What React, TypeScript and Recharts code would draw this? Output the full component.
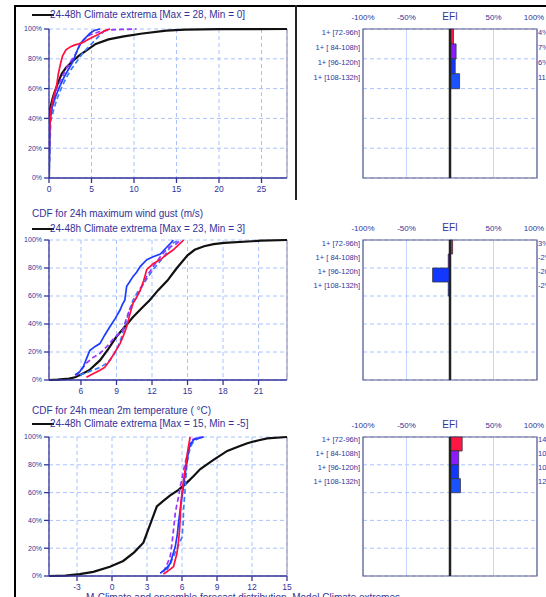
import React from 'react';
import {
  LineChart,
  Line,
  XAxis,
  YAxis,
  CartesianGrid,
  ReferenceLine,
  ReferenceArea,
  BarChart,
  Bar,
  Cell,
} from 'recharts';

// ---- CDF data: [value, cumulative %] ----
const precipTicks = [0, 5, 10, 15, 20, 25];
const precipClimate = [[0, 0], [0.05, 45], [0.5, 55], [1, 63], [1.5, 70], [2, 74], [2.7, 78], [3.5, 82], [4.5, 86], [5.5, 90], [7, 93], [8.8, 95], [11, 97], [13.8, 98.9], [16, 99.6], [20, 99.9], [28, 100]];
const precipRed = [[0, 0], [0.05, 30], [0.2, 45], [0.43, 52], [0.7, 58], [0.9, 62], [1.1, 70], [1.37, 77], [1.6, 82], [2, 86], [2.5, 88], [2.9, 89], [3.5, 90], [4, 91], [4.6, 93], [5.3, 95], [6, 97], [6.6, 99], [7.2, 100]];
const precipBlue = [[0, 0], [0.1, 38], [0.4, 48], [0.8, 55], [1.3, 62], [1.8, 68], [2.3, 73], [2.8, 78], [3.2, 84], [3.5, 88], [3.8, 91], [4.3, 94], [4.8, 97], [5.3, 99], [6, 100]];
const precipPurple = [[0, 0], [0.1, 40], [0.5, 52], [0.9, 60], [1.4, 66], [1.9, 72], [2.4, 77], [2.9, 81], [3.3, 85], [3.6, 89], [4.1, 93], [4.8, 96], [5.8, 98], [7, 99.3], [8.5, 99.7], [10.3, 100]];
const precipCyan = [[0, 0], [0.2, 38], [0.6, 47], [1, 54], [1.5, 61], [2, 67], [2.5, 72], [3, 76], [3.5, 80], [4, 84], [4.5, 87], [5, 90], [5.5, 93], [6, 96], [6.5, 98.5], [7, 100]];

const gustTicks = [6, 9, 12, 15, 18, 21];
const gustClimate = [[3.3, 0], [4, 0.3], [5, 1], [5.5, 2], [6, 4], [6.7, 7], [7.6, 14], [8.3, 22], [9, 31], [9.7, 38], [10.4, 45], [11.1, 51], [11.8, 57], [12.5, 64], [13.3, 71], [14.1, 80], [15, 89], [15.6, 93], [16.4, 95.5], [17.2, 97], [18.1, 98], [21.2, 99.5], [23.4, 100]];
const gustBlue = [[5.5, 3.6], [5.9, 6], [6.2, 9.5], [6.5, 16], [6.74, 21], [7.2, 24], [7.6, 26], [8, 32], [8.44, 38], [8.9, 44], [9.3, 50], [9.5, 54], [9.7, 57], [9.86, 67], [10.1, 70], [10.4, 74], [10.7, 77], [11, 81], [11.56, 86], [12.1, 88], [12.7, 90], [13.26, 95], [13.5, 97], [13.8, 100]];
const gustRed = [[6.46, 2], [6.9, 4], [7.6, 7], [8, 9], [8.44, 14], [8.8, 19], [9.3, 26], [9.6, 32], [9.86, 38], [10.1, 46], [10.4, 55], [10.7, 59], [11, 64], [11.3, 71], [11.56, 79], [12.1, 83], [12.7, 86], [13.3, 90], [13.8, 93], [14.3, 97], [14.67, 100]];
const gustPurple = [[5.6, 3], [6, 7], [6.46, 12], [7, 16], [7.6, 19], [8.2, 24], [8.7, 29], [9.2, 33], [9.55, 36], [9.8, 43], [10.1, 50], [10.4, 55], [10.7, 59], [11.1, 66], [11.56, 74], [12.1, 81], [12.7, 88], [13.1, 92], [13.5, 95], [14, 97], [14.4, 100]];
const gustCyan = [[5.9, 3.6], [6.4, 5], [7, 7], [7.6, 9], [8.2, 12], [8.6, 16], [9, 21], [9.4, 30], [9.86, 43], [10.1, 50], [10.4, 57], [10.8, 63], [11.3, 69], [11.7, 74], [12.1, 79], [12.6, 84], [13, 88], [13.4, 93], [13.8, 98], [14.4, 100]];

const tempTicks = [-3, 0, 3, 6, 9, 12, 15];
const tempClimate = [[-5.4, 0], [-4, 0.3], [-2.77, 1.4], [-1.6, 3], [-0.18, 6.7], [0.96, 10.8], [1.9, 17], [2.69, 24], [3, 31], [3.4, 40], [3.84, 50], [4.4, 54], [4.99, 58], [5.7, 62], [6.4, 67], [7, 72], [7.57, 77], [8.7, 83.5], [9.88, 90], [10.8, 93], [11.6, 95.5], [12.5, 97.5], [13.3, 99], [15, 100]];
const tempBlue = [[4.13, 2], [4.6, 5], [4.99, 9], [5.2, 15], [5.42, 21], [5.6, 30], [5.7, 38], [5.85, 48], [6, 57], [6.15, 66], [6.28, 74], [6.45, 83], [6.57, 91], [6.75, 95], [7, 98], [7.4, 99], [7.86, 100]];
const tempRed = [[4.41, 1.4], [4.7, 3], [5, 5], [5.27, 6.7], [5.4, 11], [5.56, 16], [5.7, 25], [5.79, 33], [5.85, 42], [5.9, 52], [6, 60], [6.13, 69], [6.3, 78], [6.42, 86], [6.55, 93], [6.7, 100]];
const tempPurple = [[4.41, 3], [4.7, 8], [4.99, 14], [5.15, 24], [5.27, 33], [5.42, 45], [5.55, 51], [5.7, 57], [5.9, 66], [6.13, 76], [6.35, 84], [6.57, 91], [6.75, 96], [6.85, 98], [7.3, 99.5], [7.8, 100]];
const tempCyan = [[4.7, 4], [5, 9], [5.27, 14], [5.6, 20], [6, 28], [6.1, 38], [6.13, 47], [6.2, 55], [6.28, 64], [6.35, 72], [6.42, 81], [6.6, 89], [6.85, 95], [7.2, 98], [7.57, 100]];

const cdfYTicks = [0, 20, 40, 60, 80, 100];

// ---- EFI data ----
const efiRows = ['1+ [72-96h]', '1+ [ 84-108h]', '1+ [96-120h]', '1+ [108-132h]'];
const precipEfi = [4, 7, 6, 11];
const gustEfi = [3, -2, -20, -2];
const tempEfi = [14, 10, 10, 12];
const efiColors = ['#ff1744', '#8a1cff', '#1238ff', '#1a52ff'];
const efiTicks = [-100, -50, 0, 50, 100];
const ROW_COUNT = 10;

const NAVY = '#33339a';
const FONT = '"Liberation Sans", Arial, Helvetica, sans-serif';

const toPts = (a: number[][]) => a.map(([x, y]) => ({ x, y }));

const lineStyles = [
  { key: 'clim', stroke: '#111111', width: 2.2, dash: undefined },
  { key: 'cyan', stroke: '#3a7cff', width: 1.7, dash: '5 3' },
  { key: 'purple', stroke: '#9a33ff', width: 1.7, dash: '5 3' },
  { key: 'blue', stroke: '#1a3cff', width: 1.7, dash: undefined },
  { key: 'red', stroke: '#ff1040', width: 1.7, dash: undefined },
];

type CdfProps = {
  top: number;
  height: number;
  marginTop: number;
  xHeight: number;
  domain: [number, number];
  ticks: number[];
  series: number[][][]; // clim, cyan, purple, blue, red
};

function CdfPanel({ top, height, marginTop, xHeight, domain, ticks, series }: CdfProps) {
  return (
    <div style={{ position: 'absolute', left: 0, top, width: 300, height }}>
      <LineChart width={300} height={height} margin={{ top: marginTop, right: 13, bottom: 0, left: 9 }}>
        <CartesianGrid stroke="#a9c2ff" strokeDasharray="4 3" />
        <XAxis
          type="number"
          dataKey="x"
          domain={domain}
          ticks={ticks}
          allowDataOverflow
          height={xHeight}
          stroke={NAVY}
          strokeWidth={1.3}
          tickSize={5}
          tickMargin={3}
          tick={{ fontSize: 8.5, fill: NAVY, fontFamily: FONT }}
        />
        <YAxis
          type="number"
          domain={[0, 100]}
          ticks={cdfYTicks}
          width={40}
          stroke={NAVY}
          strokeWidth={1.3}
          tickSize={5}
          tickMargin={2}
          tickFormatter={(v: number) => `${v}%`}
          tick={{ fontSize: 7, fill: NAVY, fontFamily: FONT }}
        />
        <ReferenceLine x={domain[1]} stroke="#9a9ab4" strokeWidth={1.2} />
        {lineStyles.map((s, i) => (
          <Line
            key={s.key}
            data={toPts(series[i])}
            dataKey="y"
            type="linear"
            stroke={s.stroke}
            strokeWidth={s.width}
            strokeDasharray={s.dash}
            dot={false}
            activeDot={false}
            isAnimationActive={false}
          />
        ))}
      </LineChart>
    </div>
  );
}

type EfiProps = {
  top: number;
  height: number;
  marginTop: number;
  marginBottom: number;
  values: number[];
};

function EfiPanel({ top, height, marginTop, marginBottom, values }: EfiProps) {
  const rows = Array.from({ length: ROW_COUNT }, (_, i) => ({
    id: `r${i}`,
    label: efiRows[i] ?? '',
    right: values[i] != null ? `${values[i]}%` : '',
    v: values[i] ?? null,
    g: i,
  }));

  const TopTick = (p: any) => {
    const v = p.payload.value;
    return (
      <text x={p.x} y={p.y} textAnchor="middle" fontSize={v === 0 ? 10 : 8} fill={NAVY} fontFamily={FONT}>
        {v === 0 ? 'EFI' : `${v}%`}
      </text>
    );
  };
  const LeftTick = (p: any) => (
    <text x={p.x} y={p.y} dy={-1.5} textAnchor="end" fontSize={7.5} fill={NAVY} fontFamily={FONT}>
      {rows[p.index]?.label}
    </text>
  );
  const RightTick = (p: any) => (
    <text x={p.x} y={p.y} dy={-1.5} textAnchor="start" fontSize={7.5} fill={NAVY} fontFamily={FONT}>
      {rows[p.index]?.right}
    </text>
  );

  return (
    <div style={{ position: 'absolute', left: 300, top, width: 246, height }}>
      <BarChart
        width={246}
        height={height}
        layout="vertical"
        data={rows}
        barCategoryGap={0}
        margin={{ top: marginTop, right: 0, bottom: marginBottom, left: 0 }}
      >
        <CartesianGrid yAxisId="g" vertical={false} stroke="#a9c2ff" strokeDasharray="4 3" />
        <CartesianGrid horizontal={false} stroke="#c4d6ff" />
        <XAxis
          type="number"
          orientation="top"
          domain={[-100, 100]}
          ticks={efiTicks}
          height={20}
          axisLine={false}
          tickLine={false}
          tickSize={0}
          tickMargin={9}
          tick={<TopTick />}
        />
        <YAxis
          type="category"
          dataKey="id"
          width={63}
          axisLine={false}
          tickLine={false}
          tickSize={0}
          tickMargin={3}
          interval={0}
          tick={<LeftTick />}
        />
        <YAxis
          yAxisId="r"
          orientation="right"
          type="category"
          dataKey="id"
          width={9}
          axisLine={false}
          tickLine={false}
          tickSize={0}
          tickMargin={1}
          interval={0}
          tick={<RightTick />}
        />
        <YAxis yAxisId="g" type="number" dataKey="g" domain={[0, ROW_COUNT]} ticks={Array.from({ length: ROW_COUNT + 1 }, (_, i) => i)} hide />
        <Bar dataKey="v" stroke="#333344" strokeWidth={0.8} isAnimationActive={false}>
          {rows.map((r, i) => (
            <Cell key={r.id} fill={efiColors[i % efiColors.length]} />
          ))}
        </Bar>
        <ReferenceArea yAxisId="g" x1={-100} x2={100} y1={0} y2={ROW_COUNT} fill="none" stroke="#5c5c8c" strokeWidth={1.2} ifOverflow="visible" />
        <ReferenceLine x={0} stroke="#222222" strokeWidth={2.5} />
      </BarChart>
    </div>
  );
}

function Legend({ y, text }: { y: number; text: string }) {
  return (
    <>
      <div style={{ position: 'absolute', left: 32, top: y - 1, width: 22, height: 2, background: '#111' }} />
      <div style={{ position: 'absolute', left: 50, top: y - 6, fontSize: 10, lineHeight: '12px', color: NAVY, whiteSpace: 'nowrap' }}>
        {text}
      </div>
    </>
  );
}

function Title({ y, text }: { y: number; text: string }) {
  return (
    <div style={{ position: 'absolute', left: 32, top: y - 6, fontSize: 10, lineHeight: '12px', color: NAVY, whiteSpace: 'nowrap' }}>
      {text}
    </div>
  );
}

export default function App() {
  return (
    <div
      style={{
        position: 'absolute',
        left: 0,
        top: 0,
        width: 546,
        height: 597,
        overflow: 'hidden',
        background: '#fff',
        fontFamily: FONT,
      }}
    >
      {/* frame */}
      <div style={{ position: 'absolute', left: 14, top: 5, width: 2, height: 592, background: '#000' }} />
      <div style={{ position: 'absolute', left: 14, top: 5, width: 532, height: 2, background: '#000' }} />
      <div style={{ position: 'absolute', left: 295, top: 5, width: 1.5, height: 195, background: '#222' }} />

      <Legend y={15} text="24-48h Climate extrema [Max = 28, Min = 0]" />
      <Title y={214} text="CDF for 24h maximum wind gust (m/s)" />
      <Legend y={229} text="24-48h Climate extrema [Max = 23, Min = 3]" />
      <Title y={411} text="CDF for 24h mean 2m temperature ( °C)" />
      <Legend y={424} text="24-48h Climate extrema [Max = 15, Min = -5]" />

      <CdfPanel
        top={0}
        height={200}
        marginTop={29}
        xHeight={22}
        domain={[0, 28]}
        ticks={precipTicks}
        series={[precipClimate, precipCyan, precipPurple, precipBlue, precipRed]}
      />
      <CdfPanel
        top={200}
        height={200}
        marginTop={40}
        xHeight={20}
        domain={[3.3, 23.4]}
        ticks={gustTicks}
        series={[gustClimate, gustCyan, gustPurple, gustBlue, gustRed]}
      />
      <CdfPanel
        top={400}
        height={197}
        marginTop={37}
        xHeight={21}
        domain={[-5.4, 15]}
        ticks={tempTicks}
        series={[tempClimate, tempCyan, tempPurple, tempBlue, tempRed]}
      />

      <EfiPanel top={0} height={200} marginTop={9} marginBottom={22} values={precipEfi} />
      <EfiPanel top={200} height={200} marginTop={20} marginBottom={20} values={gustEfi} />
      <EfiPanel top={400} height={197} marginTop={17} marginBottom={21} values={tempEfi} />

      <div style={{ position: 'absolute', left: 86, top: 592, fontSize: 10, lineHeight: '12px', color: NAVY, whiteSpace: 'nowrap' }}>
        M-Climate and ensemble forecast distribution, Model Climate extremes
      </div>
    </div>
  );
}
